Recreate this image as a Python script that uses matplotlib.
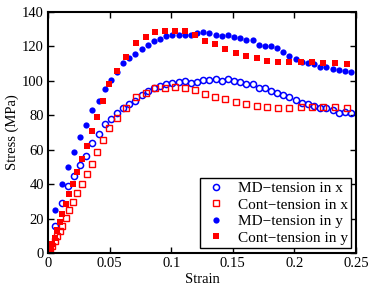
import matplotlib
matplotlib.use("Agg")
import matplotlib.pyplot as plt

plt.rcParams['font.family'] = ['Liberation Serif', 'DejaVu Serif']

# MD simulations (strain grid of the blue markers)
md_strain = [0.006, 0.011, 0.016, 0.021, 0.026, 0.031, 0.036, 0.041, 0.046, 0.051,
             0.056, 0.061, 0.066, 0.071, 0.076, 0.081, 0.086, 0.091, 0.096, 0.101,
             0.106, 0.111, 0.116, 0.121, 0.126, 0.131, 0.136, 0.141, 0.146, 0.151,
             0.156, 0.161, 0.166, 0.171, 0.176, 0.181, 0.186, 0.191, 0.196, 0.201,
             0.206, 0.211, 0.216, 0.221, 0.226, 0.231, 0.236, 0.241, 0.246]
md_x = [15.7, 29.3, 38.8, 44.8, 51.3, 56.3, 63.9, 69.0, 74.8, 77.7,
        81.2, 84.1, 86.4, 88.3, 91.8, 94.1, 95.9, 97.0, 98.2, 99.0,
        99.6, 99.9, 98.8, 99.5, 100.5, 100.4, 100.8, 99.9, 100.8, 99.9,
        99.5, 98.2, 98.2, 95.7, 95.6, 94.0, 93.2, 92.0, 90.8, 88.9,
        87.1, 86.7, 85.4, 84.1, 84.1, 83.1, 81.2, 82.1, 81.3]
md_y = [25.0, 40.1, 49.8, 58.4, 67.1, 74.5, 83.2, 88.5, 95.4, 100.3,
        105.4, 110.2, 113.4, 115.6, 118.7, 121.0, 122.9, 124.3, 125.9, 126.5,
        126.9, 126.6, 126.6, 128.0, 128.3, 127.7, 126.9, 126.2, 126.6, 125.5,
        124.9, 123.7, 123.6, 121.0, 120.4, 120.4, 119.3, 116.9, 114.7, 112.9,
        111.1, 110.5, 109.7, 108.2, 107.9, 106.8, 106.2, 106.0, 105.3]

# continuum model (red markers)
cont_strain = [0.0, 0.0016, 0.0035, 0.0057, 0.0075, 0.0094, 0.0114, 0.0144, 0.0173, 0.0205,
               0.0238, 0.0276, 0.0315, 0.0359, 0.0400, 0.0446, 0.0497, 0.0562, 0.0633, 0.0712,
               0.0793, 0.0871, 0.0952, 0.1034, 0.1112, 0.1193, 0.1274, 0.1356, 0.1438, 0.1523,
               0.1607, 0.1694, 0.1781, 0.1870, 0.1959, 0.2054, 0.2146, 0.2235, 0.2330, 0.2425]
cont_x = [0.0, 2.0, 4.1, 7.0, 9.9, 12.8, 15.7, 20.3, 25.0, 29.5,
          34.7, 40.0, 46.0, 51.9, 58.4, 65.5, 72.6, 78.5, 84.5, 90.8,
          93.2, 95.7, 95.7, 96.3, 96.1, 94.7, 92.5, 90.9, 89.5, 87.7,
          86.5, 85.4, 84.7, 84.5, 84.4, 84.8, 85.1, 84.8, 84.8, 84.4]
cont_y = [0.0, 2.3, 5.5, 9.0, 13.4, 18.0, 22.9, 28.5, 34.0, 40.1,
          46.9, 54.6, 62.2, 70.7, 79.2, 88.5, 98.2, 105.7, 114.0, 121.8,
          125.3, 128.6, 128.8, 129.0, 129.0, 126.6, 123.3, 121.2, 118.7, 116.4,
          114.6, 113.1, 111.7, 111.1, 110.8, 111.0, 111.0, 110.5, 110.4, 109.6]

fig = plt.figure(figsize=(3.74, 2.89), dpi=100)
ax = fig.add_axes([48/374, 1-253/289, 308/374, 241/289])

ax.plot(md_strain, md_x, 'o', color='blue', mfc='none', ms=4.4, mew=1.1,
        label='MD\u2212tension in x')
ax.plot(cont_strain, cont_x, 's', color='red', mfc='none', ms=3.9, mew=1.0,
        label='Cont\u2212tension in x')
ax.plot(md_strain, md_y, 'o', color='blue', ms=4.5, mew=0,
        label='MD\u2212tension in y')
ax.plot(cont_strain, cont_y, 's', color='red', ms=3.7, mew=0,
        label='Cont\u2212tension in y')

ax.set_xlim(0, 0.25)
ax.set_ylim(0, 140)
ax.set_xticks([0, 0.05, 0.1, 0.15, 0.2, 0.25])
ax.set_xticklabels(['0', '0.05', '0.1', '0.15', '0.2', '0.25'])
ax.set_yticks(range(0, 141, 20))
ax.tick_params(direction='in', top=True, right=True, length=4, width=1,
               labelsize=10.5, pad=3)
for s in ax.spines.values():
    s.set_linewidth(1.5)

ax.set_xlabel('Strain', fontsize=10.5, labelpad=2)
ax.set_ylabel('Stress (MPa)', fontsize=10.5, labelpad=2)

leg = ax.legend(loc='lower right', numpoints=1, fontsize=11, fancybox=False,
                edgecolor='black', framealpha=1, borderaxespad=0.3,
                labelspacing=0.18, handletextpad=0.6, borderpad=0.25,
                handlelength=1.6)
leg.get_frame().set_linewidth(1.0)

fig.savefig('out.png', dpi=100)
